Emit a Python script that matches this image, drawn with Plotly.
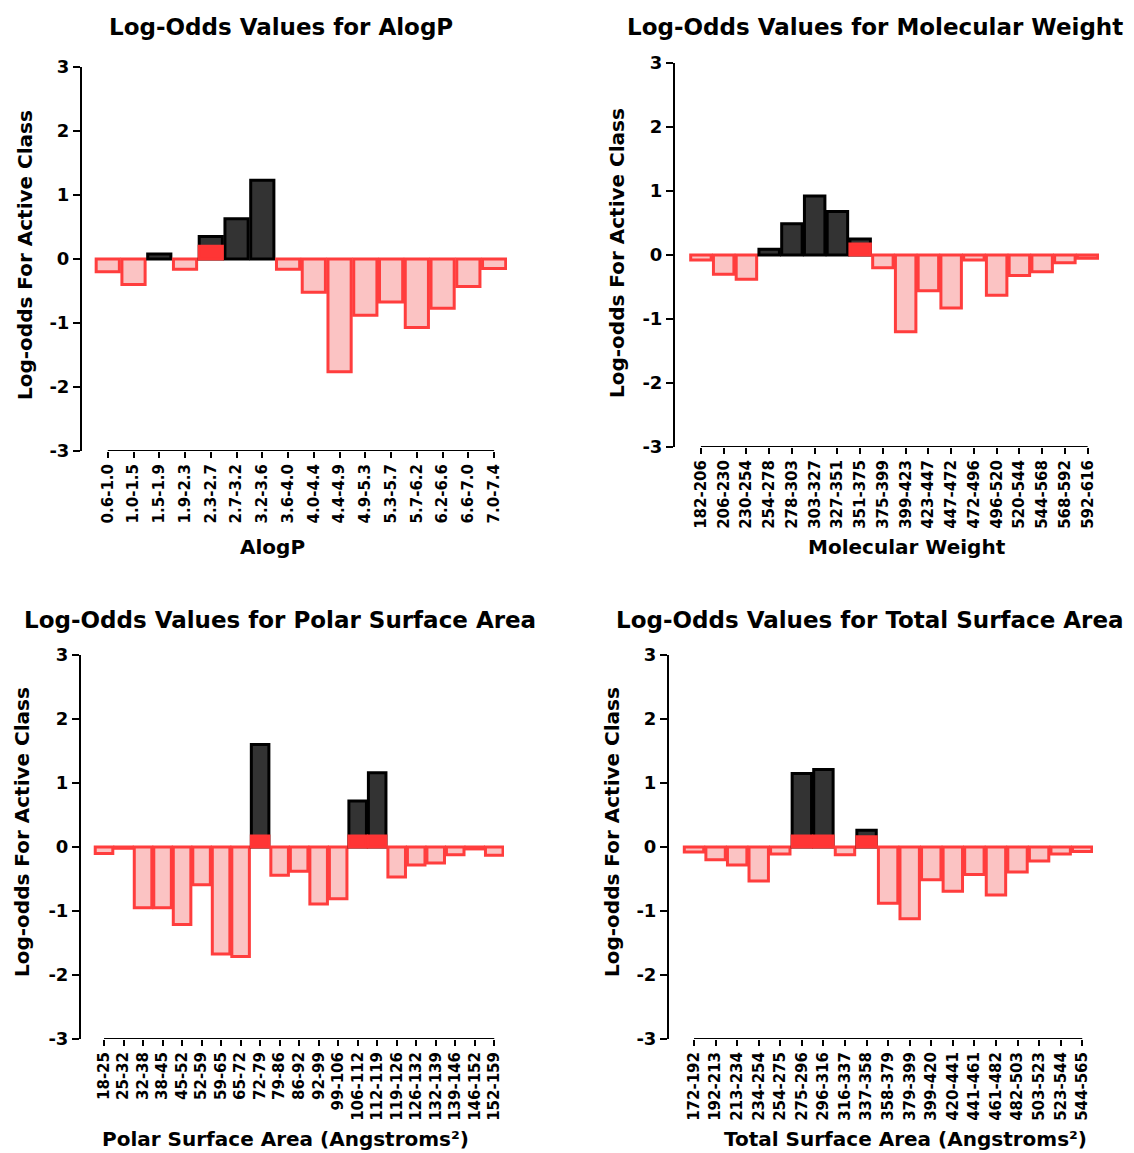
import plotly.graph_objects as go

W, H = 1134, 1153

# ---------------- data ----------------
alogp_cats = ["0.6-1.0", "1.0-1.5", "1.5-1.9", "1.9-2.3", "2.3-2.7", "2.7-3.2", "3.2-3.6", "3.6-4.0",
              "4.0-4.4", "4.4-4.9", "4.9-5.3", "5.3-5.7", "5.7-6.2", "6.2-6.6", "6.6-7.0", "7.0-7.4"]
alogp_vals = [-0.20, -0.40, 0.08, -0.16, 0.35, 0.63, 1.23, -0.16,
              -0.52, -1.76, -0.88, -0.67, -1.07, -0.77, -0.43, -0.15]
alogp_base = [0, 0, 0, 0, 0.20, 0, 0, 0, 0, 0, 0, 0, 0, 0, 0, 0]

mw_cats = ["182-206", "206-230", "230-254", "254-278", "278-303", "303-327", "327-351", "351-375",
           "375-399", "399-423", "423-447", "447-472", "472-496", "496-520", "520-544", "544-568",
           "568-592", "592-616"]
mw_vals = [-0.08, -0.30, -0.38, 0.09, 0.49, 0.92, 0.68, 0.25,
           -0.20, -1.20, -0.56, -0.83, -0.08, -0.63, -0.32, -0.26, -0.12, -0.05]
mw_base = [0, 0, 0, 0, 0, 0, 0, 0.17, 0, 0, 0, 0, 0, 0, 0, 0, 0, 0]

psa_cats = ["18-25", "25-32", "32-38", "38-45", "45-52", "52-59", "59-65", "65-72", "72-79", "79-86",
            "86-92", "92-99", "99-106", "106-112", "112-119", "119-126", "126-132", "132-139",
            "139-146", "146-152", "152-159"]
psa_vals = [-0.10, -0.02, -0.95, -0.95, -1.21, -0.59, -1.67, -1.71, 1.60, -0.44,
            -0.38, -0.89, -0.81, 0.72, 1.16, -0.47, -0.28, -0.25, -0.12, -0.03, -0.13]
psa_base = [0, 0, 0, 0, 0, 0, 0, 0, 0.17, 0, 0, 0, 0, 0.17, 0.17, 0, 0, 0, 0, 0, 0]

tsa_cats = ["172-192", "192-213", "213-234", "234-254", "254-275", "275-296", "296-316", "316-337",
            "337-358", "358-379", "379-399", "399-420", "420-441", "441-461", "461-482", "482-503",
            "503-523", "523-544", "544-565"]
tsa_vals = [-0.08, -0.20, -0.28, -0.53, -0.11, 1.15, 1.21, -0.12, 0.26, -0.88,
            -1.12, -0.51, -0.69, -0.43, -0.75, -0.39, -0.22, -0.11, -0.07]
tsa_base = [0, 0, 0, 0, 0, 0.17, 0.17, 0, 0.16, 0, 0, 0, 0, 0, 0, 0, 0, 0, 0]

titles = ["Log-Odds Values for AlogP", "Log-Odds Values for Molecular Weight",
          "Log-Odds Values for Polar Surface Area", "Log-Odds Values for Total Surface Area"]
xtitles = ["AlogP", "Molecular Weight", "Polar Surface Area (Angstroms²)", "Total Surface Area (Angstroms²)"]
ytitle = "Log-odds For Active Class"
y_ticks = [-3, -2, -1, 0, 1, 2, 3]

# ---------------- layout helpers ----------------
FONT = "DejaVu Sans"


def px_x(p):
    return p / W


def px_y(p):
    return 1 - p / H


panels = [
    dict(cats=alogp_cats, vals=alogp_vals, base=alogp_base, box=(82, 507, 67, 451), x0=-1.0,
         title=(281, 27), yt=(25, 255), xt=(272, 547)),
    dict(cats=mw_cats, vals=mw_vals, base=mw_base, box=(675, 1099, 63, 447), x0=-1.14,
         title=(875, 27), yt=(617, 253), xt=(907, 547)),
    dict(cats=psa_cats, vals=psa_vals, base=psa_base, box=(81, 504, 655, 1039), x0=-1.18,
         title=(280, 620), yt=(22, 832), xt=(285, 1139)),
    dict(cats=tsa_cats, vals=tsa_vals, base=tsa_base, box=(669, 1093, 655, 1039), x0=-1.16,
         title=(870, 620), yt=(612, 832), xt=(905, 1139)),
]

RED_LINE = "#ff3d3d"
RED_FILL = "#fbc3c3"
BLACK_FILL = "#333333"

fig = go.Figure()
annotations = []
shapes = []

for i, p in enumerate(panels):
    k = "" if i == 0 else str(i + 1)
    xa, ya = "x" + k, "y" + k
    cats, vals, base = p["cats"], p["vals"], p["base"]
    fills = [BLACK_FILL if v >= 0 else RED_FILL for v in vals]
    lines = ["#000000" if v >= 0 else RED_LINE for v in vals]
    fig.add_trace(go.Bar(x=cats, y=vals, xaxis=xa, yaxis=ya,
                         marker=dict(color=fills, line=dict(color=lines, width=3)),
                         showlegend=False))
    fig.add_trace(go.Bar(x=cats, y=[b if b > 0 else None for b in base], xaxis=xa, yaxis=ya,
                         marker=dict(color="#ff3535", line=dict(color="#ff3535", width=3)),
                         showlegend=False))
    l, r, t, b = p["box"]
    n = len(cats)
    fig.layout["xaxis" + k] = dict(
        domain=[px_x(l), px_x(r)], anchor=ya, type="category",
        range=[p["x0"], n - 0.5], showline=False, showgrid=False, zeroline=False,
        ticks="outside", ticklen=6, tickwidth=1.5, tickcolor="black",
        tickangle=-90, tickfont=dict(family=FONT, size=15, color="black", weight="bold"),
        fixedrange=True, automargin=False)
    fig.layout["yaxis" + k] = dict(
        domain=[px_y(b), px_y(t)], anchor=xa, range=[-3, 3],
        tickvals=y_ticks, ticktext=[str(v) for v in y_ticks],
        showline=True, linecolor="black", linewidth=2, showgrid=False, zeroline=False,
        ticks="outside", ticklen=7, tickwidth=2, tickcolor="black",
        tickfont=dict(family=FONT, size=18, color="black", weight="bold"),
        fixedrange=True, automargin=False)
    shapes.append(dict(type="line", xref=xa, yref=ya, x0=0, x1=n - 1, y0=-3, y1=-3,
                       line=dict(color="black", width=2)))
    annotations.append(dict(text=titles[i], x=px_x(p["title"][0]), y=px_y(p["title"][1]),
                            xref="paper", yref="paper", showarrow=False,
                            xanchor="center", yanchor="middle",
                            font=dict(family=FONT, size=23, color="black", weight="bold")))
    annotations.append(dict(text=ytitle, x=px_x(p["yt"][0]), y=px_y(p["yt"][1]),
                            xref="paper", yref="paper", showarrow=False, textangle=-90,
                            xanchor="center", yanchor="middle",
                            font=dict(family=FONT, size=20, color="black", weight="bold")))
    annotations.append(dict(text=xtitles[i], x=px_x(p["xt"][0]), y=px_y(p["xt"][1]),
                            xref="paper", yref="paper", showarrow=False,
                            xanchor="center", yanchor="middle",
                            font=dict(family=FONT, size=20, color="black", weight="bold")))

fig.update_layout(width=W, height=H, margin=dict(l=0, r=0, t=0, b=0, autoexpand=False),
                  paper_bgcolor="white", plot_bgcolor="white",
                  barmode="overlay", bargap=0.1,
                  annotations=annotations, shapes=shapes)

fig.write_html("out.html")
